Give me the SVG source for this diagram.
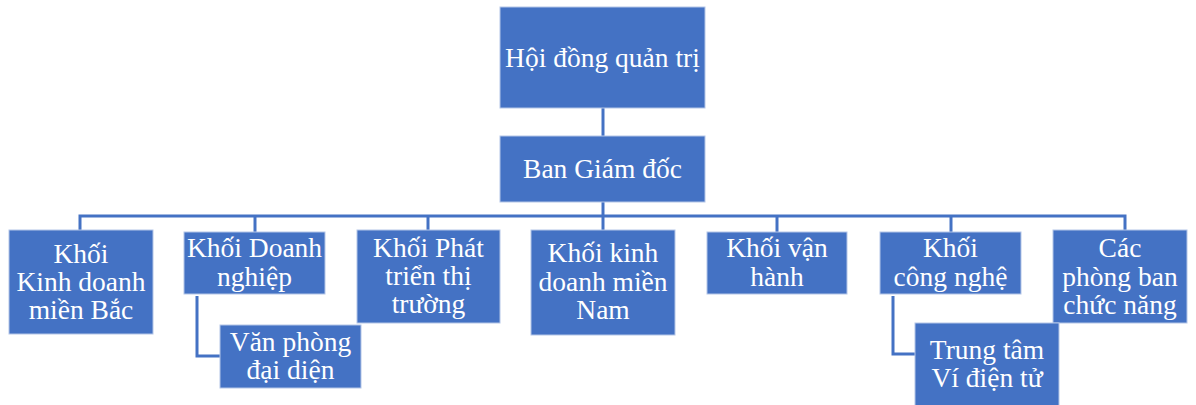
<svg xmlns="http://www.w3.org/2000/svg" width="1196" height="405" viewBox="0 0 1196 405">
<style>
.box{fill:#4472C4;stroke:#b4c6e7;stroke-width:1}
.t{font-family:"Liberation Serif","Times New Roman",serif;font-size:27.5px;fill:#ffffff;text-anchor:middle}
.c{fill:none;stroke:#4472C4;stroke-width:3}
</style>
<rect width="1196" height="405" fill="#ffffff"/>
<g id="connectors">
<line class="c" x1="603" y1="108" x2="603" y2="136"/>
<line class="c" x1="603" y1="202" x2="603" y2="216"/>
<polyline class="c" points="80,230 80,216 1125,216 1125,230"/>
<line class="c" x1="255" y1="216" x2="255" y2="232"/>
<line class="c" x1="428" y1="216" x2="428" y2="230"/>
<line class="c" x1="603" y1="216" x2="603" y2="231"/>
<line class="c" x1="777" y1="216" x2="777" y2="232"/>
<line class="c" x1="951" y1="216" x2="951" y2="232"/>
<polyline class="c" points="197,296 197,356 220,356"/>
<polyline class="c" points="893,296 893,354 915,354"/>
</g>
<g id="n-hdqt"><rect class="box" x="500" y="7" width="205" height="101"/><text class="t" x="602.5" y="67">Hội đồng quản trị</text></g>
<g id="n-bgd"><rect class="box" x="500" y="136" width="205" height="66"/><text class="t" x="602.5" y="178">Ban Giám đốc</text></g>
<g id="n-kdmb"><rect class="box" x="9" y="230" width="144" height="104"/><text class="t" x="81" y="263">Khối</text><text class="t" x="81" y="291">Kinh doanh</text><text class="t" x="81" y="319">miền Bắc</text></g>
<g id="n-kdn"><rect class="box" x="184" y="232" width="141" height="62"/><text class="t" x="254.5" y="257">Khối Doanh</text><text class="t" x="254.5" y="286">nghiệp</text></g>
<g id="n-vpdd"><rect class="box" x="220" y="325" width="141" height="63"/><text class="t" x="290.5" y="351">Văn phòng</text><text class="t" x="290.5" y="379">đại diện</text></g>
<g id="n-ptt"><rect class="box" x="357" y="230" width="143" height="93"/><text class="t" x="428.5" y="257">Khối Phát</text><text class="t" x="428.5" y="285">triển thị</text><text class="t" x="428.5" y="313">trường</text></g>
<g id="n-kdmn"><rect class="box" x="531" y="230" width="144" height="105"/><text class="t" x="603" y="262">Khối kinh</text><text class="t" x="603" y="291">doanh miền</text><text class="t" x="603" y="319">Nam</text></g>
<g id="n-vh"><rect class="box" x="707" y="232" width="140" height="62"/><text class="t" x="777" y="257">Khối vận</text><text class="t" x="777" y="286">hành</text></g>
<g id="n-cn"><rect class="box" x="880" y="232" width="141" height="62"/><text class="t" x="950.5" y="257">Khối</text><text class="t" x="950.5" y="286">công nghệ</text></g>
<g id="n-cpb"><rect class="box" x="1053" y="230" width="134" height="93"/><text class="t" x="1120" y="257">Các</text><text class="t" x="1120" y="286">phòng ban</text><text class="t" x="1120" y="314">chức năng</text></g>
<g id="n-vdt"><rect class="box" x="915" y="323" width="144" height="84"/><text class="t" x="987" y="359">Trung tâm</text><text class="t" x="987" y="387">Ví điện tử</text></g>
</svg>
